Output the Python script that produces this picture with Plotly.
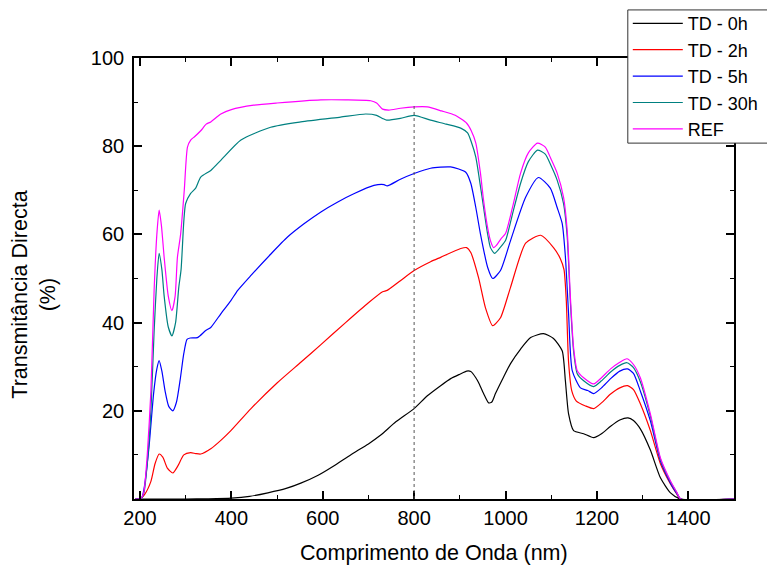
import plotly.graph_objects as go

# ---------------- data ----------------
ref_x = [190, 200, 205, 209, 216, 224, 231, 237, 242, 247, 253, 262, 270, 277, 282, 289, 297, 304, 311,
         320, 333, 345, 355, 377, 400, 449, 500, 596, 650, 705, 718, 731, 745, 770, 800, 829, 860, 890,
         915, 925, 935, 945, 952, 960, 967, 974, 980, 990, 1000, 1015, 1033, 1050, 1070, 1087, 1100,
         1113, 1127, 1135, 1142, 1149, 1157, 1171, 1193, 1210, 1230, 1250, 1266, 1280, 1295, 1317,
         1339, 1361, 1375, 1383, 1500]
ref_y = [0, 0, 0.5, 1.8, 10, 24.5, 47.3, 60, 65.5, 62, 54.8, 46, 42.7, 46, 54.8, 60, 70, 79.8, 81.4,
         82.2, 83.5, 85, 85.5, 87.3, 88.3, 89.3, 89.8, 90.5, 90.5, 90.3, 89.8, 88.4, 88.2, 88.6, 88.9,
         88.9, 88.0, 87.0, 85.2, 83.5, 80.7, 74, 67.7, 62, 58.6, 57, 57.5, 59, 60.2, 66, 73.9, 78.5,
         80.7, 79.8, 77, 73.9, 68.4, 60.9, 45.7, 34.3, 29.1, 27.5, 26.1, 27.5, 29.5, 31.0, 31.8, 30.5,
         27.5, 19.3, 9.3, 4.1, 1.5, 0, 0]

td30_x = [190, 200, 205, 209, 216, 224, 231, 237, 242, 248, 253, 262, 270, 278, 285, 290, 296, 300,
          311, 322, 333, 355, 377, 421, 486, 552, 639, 694, 718, 731, 740, 770, 800, 836, 870, 902,
          917, 925, 935, 945, 952, 961, 967, 976, 988, 1000, 1015, 1033, 1050, 1070, 1087, 1100, 1113,
          1127, 1135, 1142, 1149, 1157, 1171, 1193, 1210, 1230, 1250, 1266, 1280, 1295, 1317, 1339,
          1361, 1375, 1383, 1500]
td30_y = [0, 0, 0.4, 1.5, 8, 20, 38, 50, 55.7, 52, 46, 39, 37, 40, 48, 52, 63, 67, 69.3, 70.5, 73,
          74.5, 76.8, 81.4, 84.3, 85.5, 86.6, 87.3, 87.0, 86.3, 85.9, 86.3, 87.0, 85.9, 85.0, 84.1,
          83.0, 81.0, 77.5, 71, 66.1, 60, 57, 55.7, 57, 58.6, 64.5, 71.6, 76.5, 79.1, 78.2, 75.5, 72.3,
          67, 59.5, 44.5, 33.5, 28.4, 26.8, 25.5, 26.8, 28.8, 30.3, 30.9, 29.8, 26.6, 18.8, 9.0, 3.9,
          1.4, 0, 0]

td5_x = [190, 200, 205, 210, 220, 230, 237, 242, 248, 255, 263, 272, 280, 288, 296, 303, 310, 326,
         344, 355, 377, 399, 414, 443, 486, 523, 559, 596, 632, 668, 712, 734, 741, 770, 800, 836,
         880, 913, 924, 935, 945, 961, 972, 989, 1011, 1044, 1072, 1098, 1113, 1124, 1131, 1138,
         1146, 1164, 1180, 1193, 1210, 1230, 1250, 1267, 1280, 1295, 1317, 1339, 1361, 1375, 1383,
         1500]
td5_y = [0, 0, 0.5, 3, 12, 24, 29.5, 31.4, 29, 24.5, 21, 20, 22, 27, 33, 36.2, 36.5, 36.6, 38.2,
         38.9, 42, 45, 47.3, 50.7, 55.5, 59.4, 62.4, 65.1, 67.3, 69.2, 71.1, 71.3, 71.0, 72.5, 73.8,
         75.0, 75.3, 74.1, 71.6, 66.1, 60.2, 52.5, 50.0, 51.8, 58.6, 68.4, 72.9, 70.5, 66.1, 62.5,
         55, 42, 29.1, 25.2, 24.6, 23.9, 25.2, 27.3, 29.0, 29.5, 28.5, 24.5, 17.7, 8.6, 3.6, 1.2, 0, 0]

td2_x = [190, 200, 210, 224, 233, 242, 250, 260, 272, 283, 296, 311, 322, 333, 355, 377, 399, 443,
         500, 552, 596, 650, 700, 731, 741, 770, 800, 836, 858, 902, 915, 924, 941, 956, 972, 989,
         1011, 1044, 1077, 1105, 1120, 1128, 1133, 1138, 1145, 1155, 1175, 1193, 1210, 1230, 1250,
         1267, 1280, 1295, 1317, 1339, 1361, 1375, 1383, 1500]
td2_y = [0, 0, 1, 4, 8, 10.2, 9.5, 7, 5.9, 7.5, 10, 10.5, 10.3, 10.2, 11.4, 13.3, 15.5, 20.5, 26.3,
         31, 35, 40, 44.5, 47, 47.3, 49.5, 51.8, 53.8, 54.8, 56.8, 57.0, 55.9, 50.2, 43.4, 39.3, 41.1,
         48, 58, 59.8, 57, 54.5, 52, 45, 31, 24.5, 22.2, 21.1, 20.5, 21.8, 23.8, 25.2, 25.7, 24.8,
         21.6, 15.5, 8.0, 3.4, 1.1, 0, 0]

td0_x = [190, 300, 350, 400, 440, 480, 520, 552, 590, 624, 661, 700, 727, 760, 800, 829, 858, 880,
         900, 915, 924, 935, 941, 952, 963, 970, 978, 995, 1011, 1033, 1055, 1083, 1105, 1124, 1131,
         1138, 1149, 1171, 1193, 1210, 1230, 1250, 1268, 1280, 1295, 1317, 1339, 1361, 1383, 1500]
td0_y = [0, 0, 0.05, 0.2, 0.6, 1.4, 2.4, 3.6, 5.4, 7.5, 10.0, 12.5, 14.5, 17.5, 20.5, 23.4, 25.7,
         27.3, 28.3, 29.0, 28.9, 27.5, 26.4, 23.9, 21.8, 22.0, 23.9, 27.5, 30.7, 34.0, 36.6, 37.5,
         36.4, 33.6, 26.8, 19.3, 15.5, 14.8, 13.9, 14.8, 16.5, 17.9, 18.4, 17.8, 15.9, 11.1, 4.8, 1.4,
         0, 0]

series_names = ["TD - 0h", "TD - 2h", "TD - 5h", "TD - 30h", "REF"]
series_x = [td0_x, td2_x, td5_x, td30_x, ref_x]
series_y = [td0_y, td2_y, td5_y, td30_y, ref_y]
series_colors = ["#000000", "#FF0000", "#0000FF", "#008080", "#FF00FF"]

x_ticks = [200, 400, 600, 800, 1000, 1200, 1400]
y_ticks = [20, 40, 60, 80, 100]
detector_change_nm = 800
detector_line_top = 89.5

# ---------------- figure ----------------
FONT = "Liberation Sans, Arial, sans-serif"
fig = go.Figure()
for name, xs, ys, col in zip(series_names, series_x, series_y, series_colors):
    fig.add_trace(go.Scatter(x=xs, y=ys, mode="lines", name=name,
                             line=dict(color=col, width=1.2, shape="spline", smoothing=0.6)))

fig.add_shape(type="line", xref="x", yref="y", x0=detector_change_nm, x1=detector_change_nm,
              y0=0, y1=detector_line_top, line=dict(color="#555555", width=1, dash="dot"))

# legend frame: in the reference it runs past the right edge of the image
fig.add_shape(type="rect", xref="paper", yref="paper", x0=0.823, x1=1.08, y0=0.807, y1=1.109,
              layer="above", fillcolor="white", line=dict(color="#333333", width=1))

axis_common = dict(showgrid=False, zeroline=False, showline=True, linecolor="black", linewidth=1.6,
                   mirror="allticks", ticks="inside", ticklen=8, tickwidth=1.5, tickcolor="black",
                   tickfont=dict(family=FONT, size=20, color="black"))

fig.update_xaxes(range=[187, 1500], tickvals=x_ticks,
                 minor=dict(dtick=100, tick0=100, ticks="inside", ticklen=4, tickwidth=1.2,
                            tickcolor="black"),
                 **axis_common)
fig.update_yaxes(range=[0, 100], tickvals=y_ticks, ticklabelstandoff=4,
                 minor=dict(dtick=10, tick0=0, ticks="inside", ticklen=4, tickwidth=1.2,
                            tickcolor="black"),
                 **axis_common)

fig.add_annotation(text="Comprimento de Onda (nm)", xref="paper", yref="paper", x=0.5, y=-0.1224,
                   xanchor="center", yanchor="middle", showarrow=False,
                   font=dict(family=FONT, size=21.5, color="black"))
fig.add_annotation(text="Transmitância Directa<br>(%)", xref="paper", yref="paper", x=-0.168,
                   y=0.4637, xanchor="center", yanchor="middle", textangle=-90, showarrow=False,
                   font=dict(family=FONT, size=21.5, color="black"))

fig.update_layout(
    width=767, height=569,
    margin=dict(l=134, r=33, t=58, b=70, autoexpand=False),
    paper_bgcolor="white", plot_bgcolor="white",
    showlegend=True,
    legend=dict(x=0.823, y=1.12, xanchor="left", yanchor="top", xref="paper", yref="paper",
                bgcolor="rgba(0,0,0,0)", borderwidth=0,
                font=dict(family=FONT, size=18, color="black"), itemwidth=50,
                tracegroupgap=0),
)

fig.write_html("out.html", config={"displayModeBar": False},
               post_script="document.body.style.margin='0';document.body.style.padding='0';")
